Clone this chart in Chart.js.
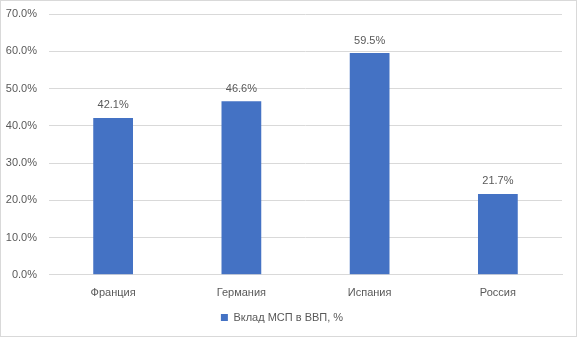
<!doctype html>
<html lang="ru">
<head>
<meta charset="utf-8">
<title>Вклад МСП в ВВП</title>
<style>
  * { margin: 0; padding: 0; }
  body { background: #fff; }
  .chartBox {
    width: 577px;
    height: 337px;
    box-sizing: border-box;
    border: 1px solid #d9d9d9;
  }
</style>
</head>
<body>
<div class="chartBox"><canvas id="myChart"></canvas></div>
<script src="https://cdn.jsdelivr.net/npm/chart.js/dist/chart.umd.min.js"></script>
<script>
// data
const countries = ['Франция', 'Германия', 'Испания', 'Россия'];
const smeShare = [42.1, 46.6, 59.5, 21.7];
const seriesName = 'Вклад МСП в ВВП, %';

const FONT = "'Liberation Sans', 'DejaVu Sans', sans-serif";
const TEXT = '#595959';

// value labels over the bars
const barLabels = {
  id: 'barLabels',
  afterDatasetsDraw(chart) {
    const { ctx } = chart;
    const meta = chart.getDatasetMeta(0);
    ctx.save();
    ctx.font = '11px ' + FONT;
    ctx.fillStyle = TEXT;
    ctx.textAlign = 'center';
    ctx.textBaseline = 'bottom';
    meta.data.forEach((bar, i) => {
      ctx.fillText(smeShare[i].toFixed(1) + '%', bar.x, bar.y - 7);
    });
    ctx.restore();
  }
};

const config = {
  type: 'bar',
  data: {
    labels: countries,
    datasets: [{
      label: seriesName,
      data: smeShare,
      backgroundColor: '#4472C4',
      categoryPercentage: 1,
      barPercentage: 0.31
    }]
  },
  options: {
    responsive: true,
    maintainAspectRatio: false,
    animation: false,
    layout: { padding: { left: 1, right: 14, top: 0, bottom: 3 } },
    scales: {
      x: {
        grid: { display: false },
        border: { color: '#d9d9d9' },
        ticks: { color: TEXT, font: { family: FONT, size: 11 }, padding: 4 }
      },
      y: {
        min: 0,
        max: 70,
        ticks: {
          stepSize: 10,
          color: TEXT,
          font: { family: FONT, size: 11 },
          padding: 12,
          callback: v => v.toFixed(1) + '%'
        },
        grid: { color: '#d9d9d9', drawTicks: false },
        border: { display: false },
        afterFit(scale) {
          scale.width = 47;
          scale.paddingTop = 13;
          scale.paddingBottom = 0;
        }
      }
    },
    plugins: {
      legend: {
        position: 'bottom',
        labels: {
          color: TEXT,
          font: { family: FONT, size: 11 },
          boxWidth: 7,
          boxHeight: 7,
          padding: 8
        }
      },
      tooltip: { enabled: false }
    }
  },
  plugins: [barLabels]
};

new Chart(document.getElementById('myChart'), config);
</script>
</body>
</html>
